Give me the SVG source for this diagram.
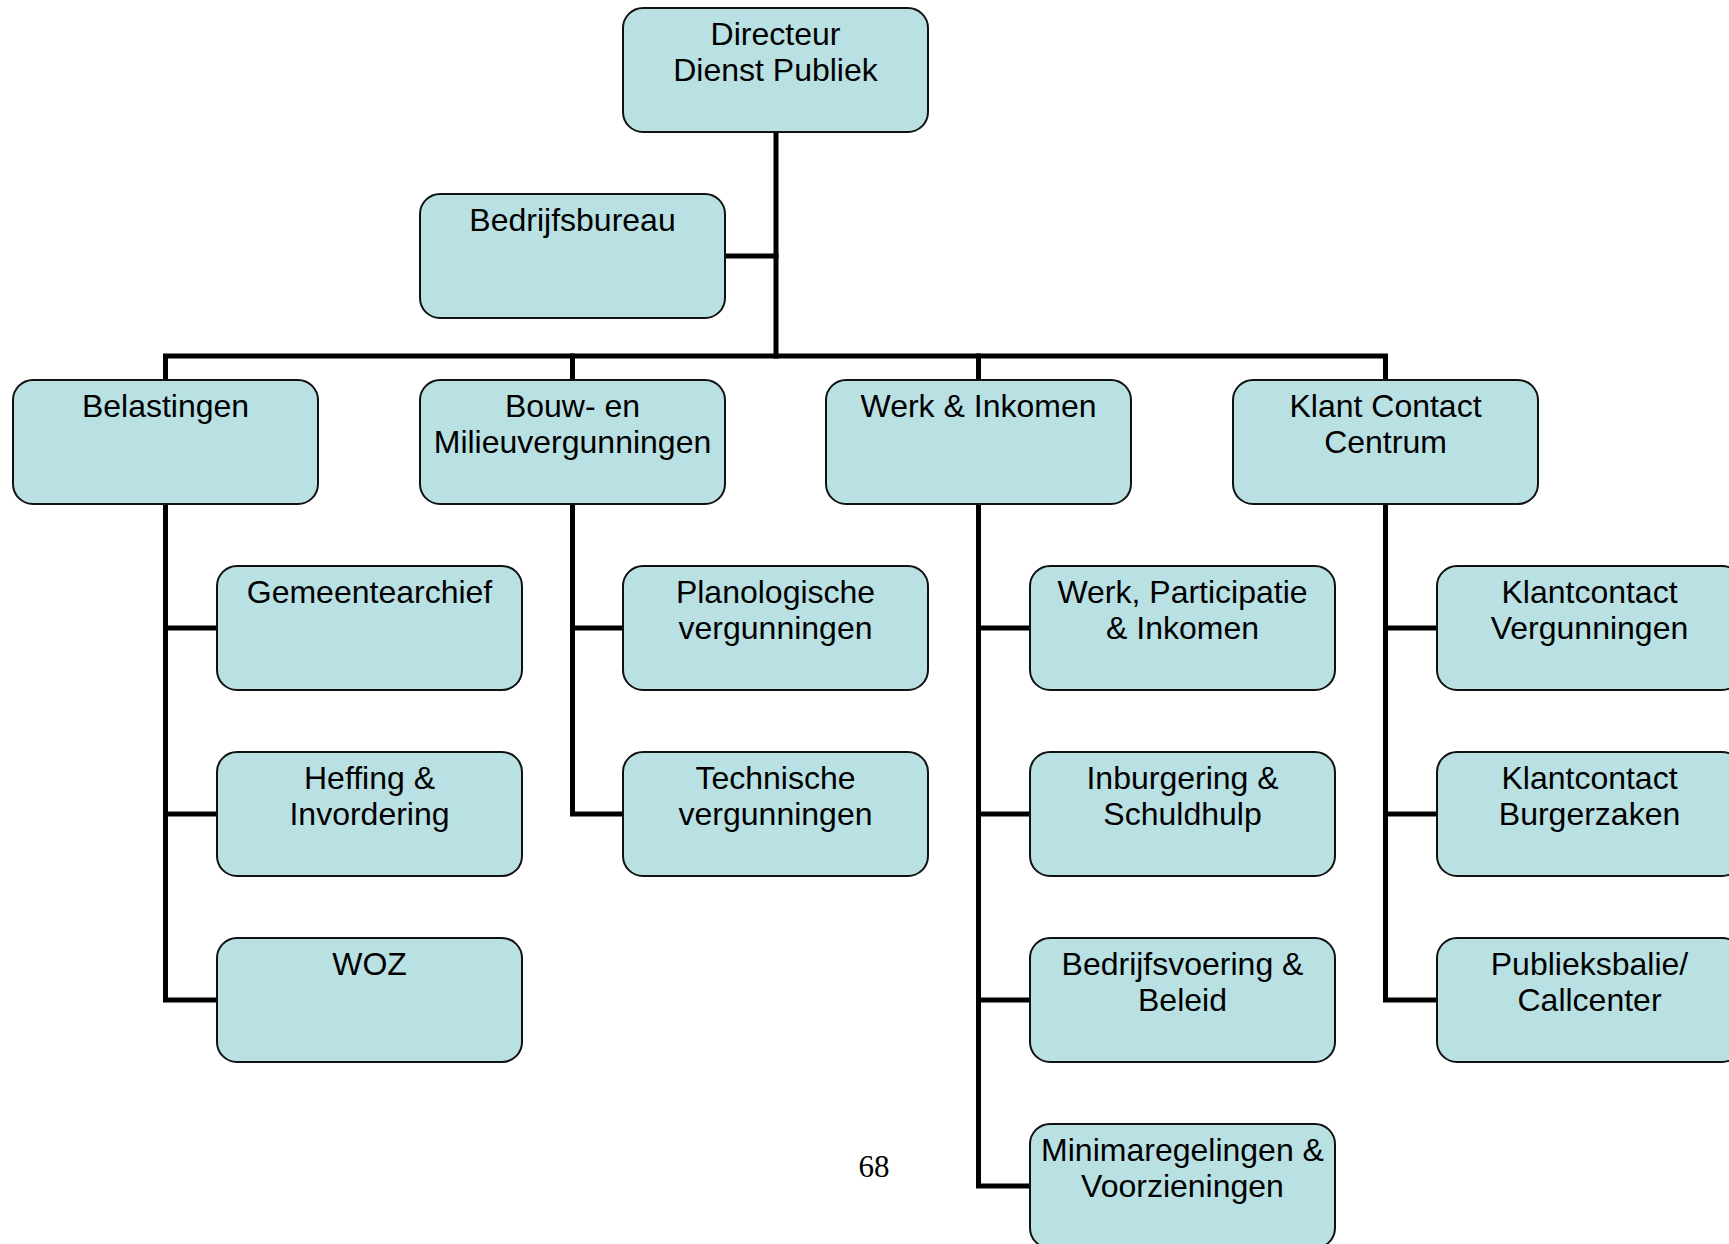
<svg xmlns="http://www.w3.org/2000/svg" width="1729" height="1244" viewBox="0 0 1729 1244">
<style>
.box{fill:#B9E0E3;stroke:#111;stroke-width:2}
.t{font-family:"Liberation Sans",Arial,sans-serif;font-size:32px;fill:#000;text-anchor:middle}
.c{fill:none;stroke:#000;stroke-width:5;stroke-linejoin:miter;stroke-linecap:square}
.pg{font-family:"Liberation Serif","Times New Roman",serif;font-size:31px;fill:#000;text-anchor:middle}
</style>
<defs>
<rect id="b" class="box" x="0" y="0" width="305" height="124" rx="20" ry="20"/>
</defs>
<rect width="1729" height="1244" fill="#fff"/>
<g id="connectors">
<path class="c" d="M776 132 V356"/>
<path class="c" d="M725 256 H776"/>
<path class="c" d="M165.5 380 V356 H1385.5 V380"/>
<path class="c" d="M572.5 356 V380"/>
<path class="c" d="M978.5 356 V380"/>
<path class="c" d="M165.5 504 V1000 H217 M165.5 628 H217 M165.5 814 H217"/>
<path class="c" d="M572.5 504 V814 H623 M572.5 628 H623"/>
<path class="c" d="M978.5 504 V1186 H1030 M978.5 628 H1030 M978.5 814 H1030 M978.5 1000 H1030"/>
<path class="c" d="M1385.5 504 V1000 H1437 M1385.5 628 H1437 M1385.5 814 H1437"/>
</g>
<g id="n-directeur"><use href="#b" x="623" y="8"/><text class="t" x="775.5" y="45">Directeur</text><text class="t" x="775.5" y="81">Dienst Publiek</text></g>
<g id="n-bedrijfsbureau"><use href="#b" x="420" y="194"/><text class="t" x="572.5" y="231">Bedrijfsbureau</text></g>
<g id="n-belastingen"><use href="#b" x="13" y="380"/><text class="t" x="165.5" y="417">Belastingen</text></g>
<g id="n-bouw"><use href="#b" x="420" y="380"/><text class="t" x="572.5" y="417">Bouw- en</text><text class="t" x="572.5" y="453">Milieuvergunningen</text></g>
<g id="n-werk"><use href="#b" x="826" y="380"/><text class="t" x="978.5" y="417">Werk &amp; Inkomen</text></g>
<g id="n-klant"><use href="#b" x="1233" y="380"/><text class="t" x="1385.5" y="417">Klant Contact</text><text class="t" x="1385.5" y="453">Centrum</text></g>
<g id="n-gemeentearchief"><use href="#b" x="217" y="566"/><text class="t" x="369.5" y="603">Gemeentearchief</text></g>
<g id="n-heffing"><use href="#b" x="217" y="752"/><text class="t" x="369.5" y="789">Heffing &amp;</text><text class="t" x="369.5" y="825">Invordering</text></g>
<g id="n-woz"><use href="#b" x="217" y="938"/><text class="t" x="369.5" y="975">WOZ</text></g>
<g id="n-planologische"><use href="#b" x="623" y="566"/><text class="t" x="775.5" y="603">Planologische</text><text class="t" x="775.5" y="639">vergunningen</text></g>
<g id="n-technische"><use href="#b" x="623" y="752"/><text class="t" x="775.5" y="789">Technische</text><text class="t" x="775.5" y="825">vergunningen</text></g>
<g id="n-wpi"><use href="#b" x="1030" y="566"/><text class="t" x="1182.5" y="603">Werk, Participatie</text><text class="t" x="1182.5" y="639">&amp; Inkomen</text></g>
<g id="n-inburgering"><use href="#b" x="1030" y="752"/><text class="t" x="1182.5" y="789">Inburgering &amp;</text><text class="t" x="1182.5" y="825">Schuldhulp</text></g>
<g id="n-bedrijfsvoering"><use href="#b" x="1030" y="938"/><text class="t" x="1182.5" y="975">Bedrijfsvoering &amp;</text><text class="t" x="1182.5" y="1011">Beleid</text></g>
<g id="n-minima"><use href="#b" x="1030" y="1124"/><text class="t" x="1182.5" y="1161">Minimaregelingen &amp;</text><text class="t" x="1182.5" y="1197">Voorzieningen</text></g>
<g id="n-kcv"><use href="#b" x="1437" y="566"/><text class="t" x="1589.5" y="603">Klantcontact</text><text class="t" x="1589.5" y="639">Vergunningen</text></g>
<g id="n-kcb"><use href="#b" x="1437" y="752"/><text class="t" x="1589.5" y="789">Klantcontact</text><text class="t" x="1589.5" y="825">Burgerzaken</text></g>
<g id="n-publieksbalie"><use href="#b" x="1437" y="938"/><text class="t" x="1589.5" y="975">Publieksbalie/</text><text class="t" x="1589.5" y="1011">Callcenter</text></g>
<text class="pg" x="874" y="1177">68</text>
</svg>
